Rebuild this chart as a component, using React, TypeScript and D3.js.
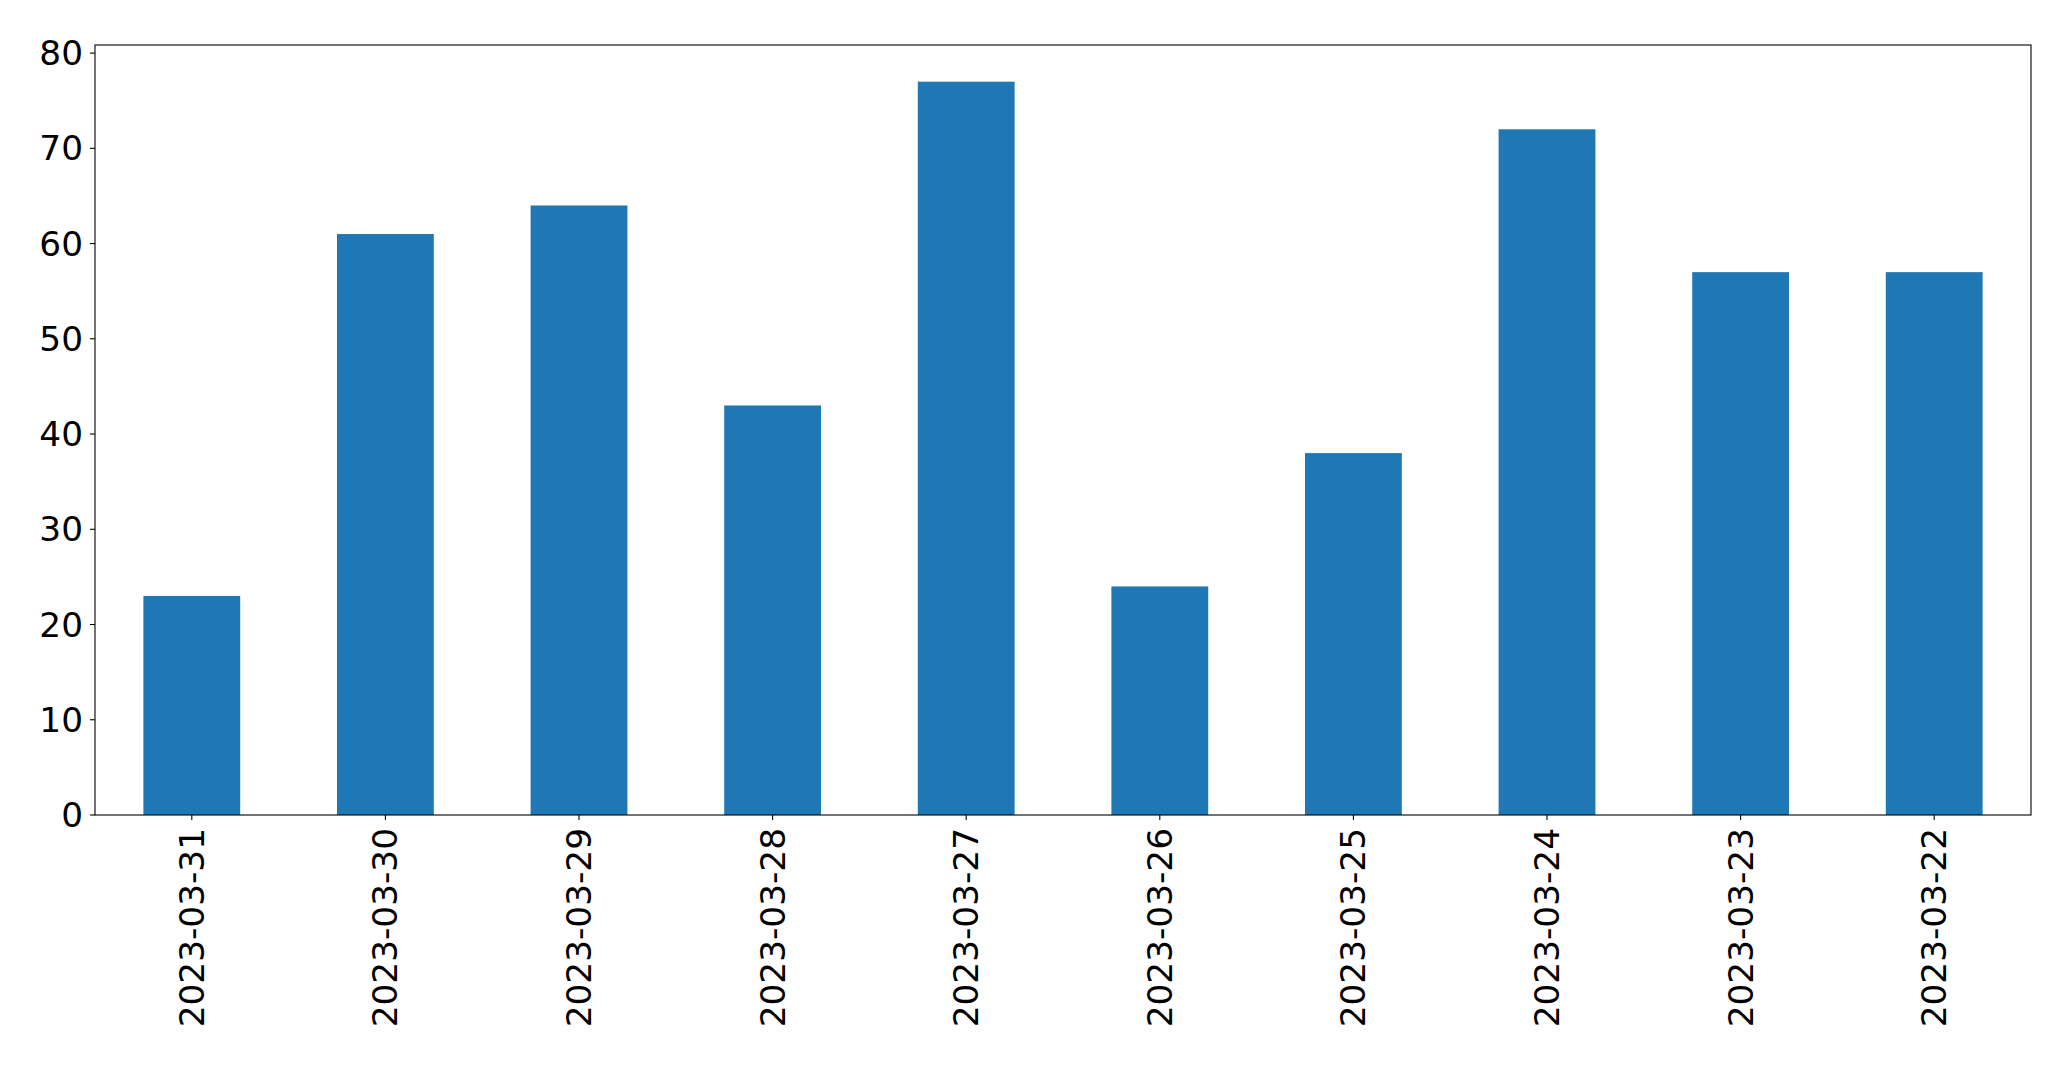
import React from "react";
import * as d3 from "d3";

const WIDTH = 2071;
const HEIGHT = 1067;
const MARGIN = { top: 45, right: 40, bottom: 252, left: 95 };

const dates = [
  "2023-03-31",
  "2023-03-30",
  "2023-03-29",
  "2023-03-28",
  "2023-03-27",
  "2023-03-26",
  "2023-03-25",
  "2023-03-24",
  "2023-03-23",
  "2023-03-22",
];
const counts = [23, 61, 64, 43, 77, 24, 38, 72, 57, 57];
const yTicks = [0, 10, 20, 30, 40, 50, 60, 70, 80];

const FONT = "DejaVu Sans, sans-serif";
const FONT_SIZE = 34.3;
const TICK = 5;

const App = () => {
  const boundsWidth = WIDTH - MARGIN.left - MARGIN.right;
  const boundsHeight = HEIGHT - MARGIN.top - MARGIN.bottom;

  const xScale = d3
    .scaleBand()
    .domain(dates)
    .range([0, boundsWidth])
    .paddingInner(0.5)
    .paddingOuter(0.25);

  const yMax = (d3.max(counts) ?? 0) * 1.05;
  const yScale = d3.scaleLinear().domain([0, yMax]).range([boundsHeight, 0]);

  const bars = dates.map((d, i) => (
    <rect
      key={d}
      x={xScale(d)}
      y={yScale(counts[i])}
      width={xScale.bandwidth()}
      height={boundsHeight - yScale(counts[i])}
      fill="#1f77b4"
    />
  ));

  const xLabels = dates.map((d) => {
    const cx = (xScale(d) ?? 0) + xScale.bandwidth() / 2;
    return (
      <g key={d} transform={`translate(${cx},${boundsHeight})`}>
        <line y1={0} y2={TICK} stroke="black" strokeWidth={1.1} />
        <text
          transform={`translate(0,${TICK + 8}) rotate(-90)`}
          textAnchor="end"
          dominantBaseline="central"
          fontSize={FONT_SIZE}
          fontFamily={FONT}
        >
          {d}
        </text>
      </g>
    );
  });

  const yLabels = yTicks.map((t) => (
    <g key={t} transform={`translate(0,${yScale(t)})`}>
      <line x1={-TICK} x2={0} stroke="black" strokeWidth={1.1} />
      <text
        x={-TICK - 7}
        textAnchor="end"
        dominantBaseline="central"
        fontSize={FONT_SIZE}
        fontFamily={FONT}
      >
        {t}
      </text>
    </g>
  ));

  return (
    <svg
      width={WIDTH}
      height={HEIGHT}
      style={{ position: "absolute", left: 0, top: 0, background: "white" }}
    >
      <g transform={`translate(${MARGIN.left},${MARGIN.top})`}>
        {bars}
        <rect
          x={0}
          y={0}
          width={boundsWidth}
          height={boundsHeight}
          fill="none"
          stroke="black"
          strokeWidth={1.1}
        />
        {xLabels}
        {yLabels}
      </g>
    </svg>
  );
};

export default App;
